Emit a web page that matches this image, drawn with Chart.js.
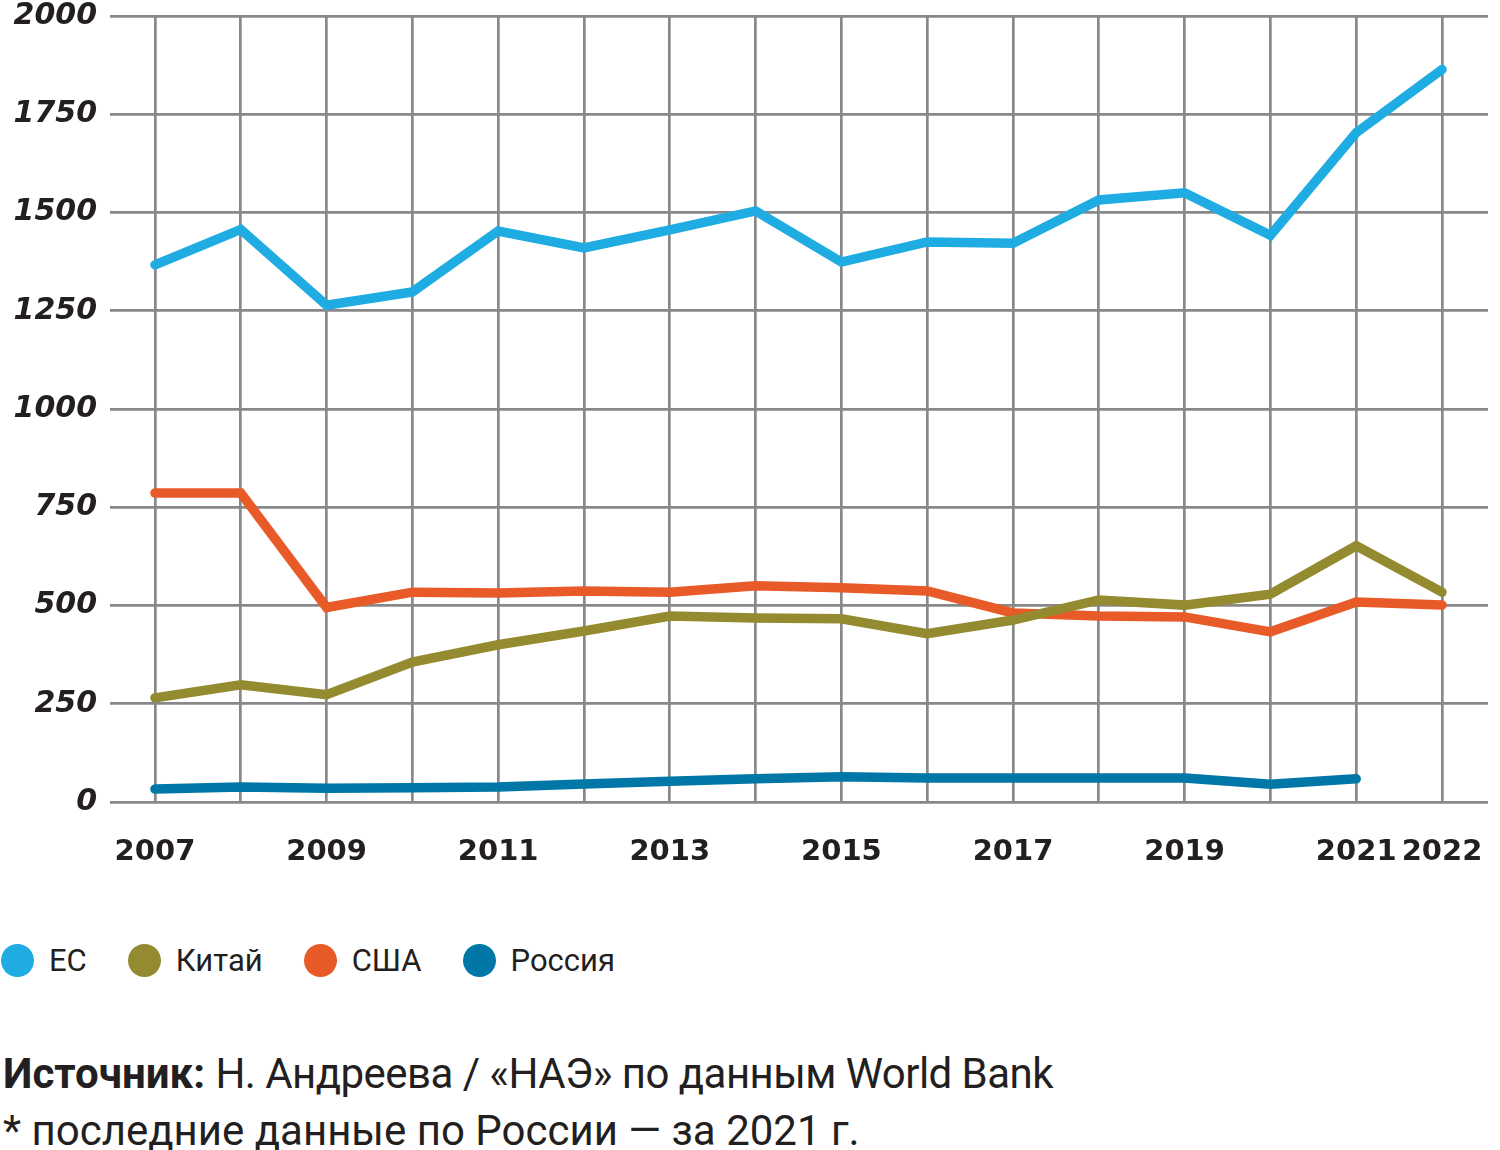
<!DOCTYPE html>
<html>
<head>
<meta charset="utf-8">
<script src="https://cdn.jsdelivr.net/npm/chart.js@4/dist/chart.umd.min.js"></script>
<style>
  body { margin: 0; background: #fff; }
  #wrap { position: relative; width: 1500px; height: 1150px; overflow: hidden; }
  #chart-box { position: absolute; left: 0; top: 0; width: 1500px; height: 880px; }
  #legend { position: absolute; left: 1px; top: 942px; display: flex; align-items: center;
            font-family: Roboto, sans-serif; font-size: 31px; color: #231f20; }
  .item { display: flex; align-items: center; margin-right: 41px; }
  .dot { width: 33px; height: 33px; border-radius: 50%; margin-right: 15px; }
  #source { position: absolute; left: 3px; top: 1045px; font-family: Roboto, sans-serif;
            font-size: 42px; line-height: 57px; color: #231f20; white-space: nowrap; }
  #source .rest { letter-spacing: -0.55px; }
</style>
</head>
<body>
<div id="wrap">
  <div id="chart-box"><canvas id="chart"></canvas></div>
  <div id="legend"></div>
  <div id="source">
    <div><b>Источник:</b> <span class="rest">Н. Андреева / «НАЭ» по данным World Bank</span></div>
    <div>* последние данные по России — за 2021 г.</div>
  </div>
</div>
<script>
const years = [2007, 2008, 2009, 2010, 2011, 2012, 2013, 2014, 2015, 2016, 2017, 2018, 2019, 2020, 2021, 2022]
const euValues = [1367, 1457, 1264, 1298, 1453, 1410, 1456, 1504, 1374, 1425, 1422, 1532, 1550, 1442, 1703, 1864]
const chinaValues = [265, 298, 273, 356, 400, 435, 473, 468, 466, 428, 463, 514, 501, 529, 652, 534]
const usaValues = [786, 786, 495, 534, 532, 537, 534, 550, 545, 537, 481, 473, 471, 433, 509, 501]
const russiaValues = [33, 38, 35, 36, 38, 46, 53, 59, 64, 61, 61, 61, 61, 45, 59, null]
const yTicks = [0, 250, 500, 750, 1000, 1250, 1500, 1750, 2000]

const seriesNames = ['ЕС', 'Китай', 'США', 'Россия']
const seriesColors = ['#1eace2', '#948a2f', '#e85a27', '#0077a6']
const seriesValues = [euValues, chinaValues, usaValues, russiaValues]

function toPoints(values) {
    let pts = []
    values.forEach((v, i) => {
        if (v !== null) pts.push({ x: years[i], y: v })
    })
    return pts
}

const datasets = seriesNames.map((name, i) => ({
    label: name,
    data: toPoints(seriesValues[i]),
    borderColor: seriesColors[i],
    backgroundColor: seriesColors[i],
    borderWidth: 9.5,
    borderCapStyle: 'round',
    borderJoinStyle: 'miter',
    pointRadius: 0,
    tension: 0,
    fill: false
}))

const gridColor = '#88888a'

// drop the extra room chart.js keeps for edge labels
function noEdgePadding(scale) {
    scale.paddingTop = 0
    scale.paddingBottom = 0
    scale.paddingLeft = 0
    scale.paddingRight = 0
}

const config = {
    type: 'line',
    data: { datasets: datasets },
    options: {
        responsive: true,
        maintainAspectRatio: false,
        animation: false,
        layout: { padding: { top: 16, right: 12, left: 0, bottom: 0 } },
        plugins: {
            legend: { display: false },
            tooltip: { enabled: false }
        },
        scales: {
            x: {
                type: 'linear',
                min: 2006.476,
                max: 2022.536,
                afterBuildTicks: scale => {
                    scale.ticks = years.map(v => ({ value: v }))
                },
                afterFit: scale => {
                    scale.height = 78
                    noEdgePadding(scale)
                },
                grid: { color: gridColor, lineWidth: 2.7, drawTicks: false },
                border: { display: false },
                ticks: {
                    autoSkip: false,
                    maxRotation: 0,
                    padding: 33,
                    color: '#231f20',
                    font: { family: 'DejaVu Sans', size: 29, weight: 'bold' },
                    callback: v => (v % 2 === 1 || v === 2022) ? String(v) : ''
                }
            },
            y: {
                min: 0,
                max: 2000,
                afterBuildTicks: scale => {
                    scale.ticks = yTicks.map(v => ({ value: v }))
                },
                afterFit: scale => {
                    scale.width = 110
                    noEdgePadding(scale)
                },
                grid: { color: gridColor, lineWidth: 2.7, drawTicks: false },
                border: { display: false },
                ticks: {
                    padding: 13,
                    color: '#231f20',
                    font: { family: 'DejaVu Sans', size: 30, weight: 'bold', style: 'italic', lineHeight: 1 },
                    callback: v => String(v)
                }
            }
        }
    }
}

const chart = new Chart(document.getElementById('chart').getContext('2d'), config)

// html legend built from the datasets
const legend = document.getElementById('legend')
datasets.forEach(ds => {
    const item = document.createElement('div')
    item.className = 'item'
    const dot = document.createElement('span')
    dot.className = 'dot'
    dot.style.background = ds.borderColor
    const txt = document.createElement('span')
    txt.innerText = ds.label
    item.appendChild(dot)
    item.appendChild(txt)
    legend.appendChild(item)
})
</script>
</body>
</html>
